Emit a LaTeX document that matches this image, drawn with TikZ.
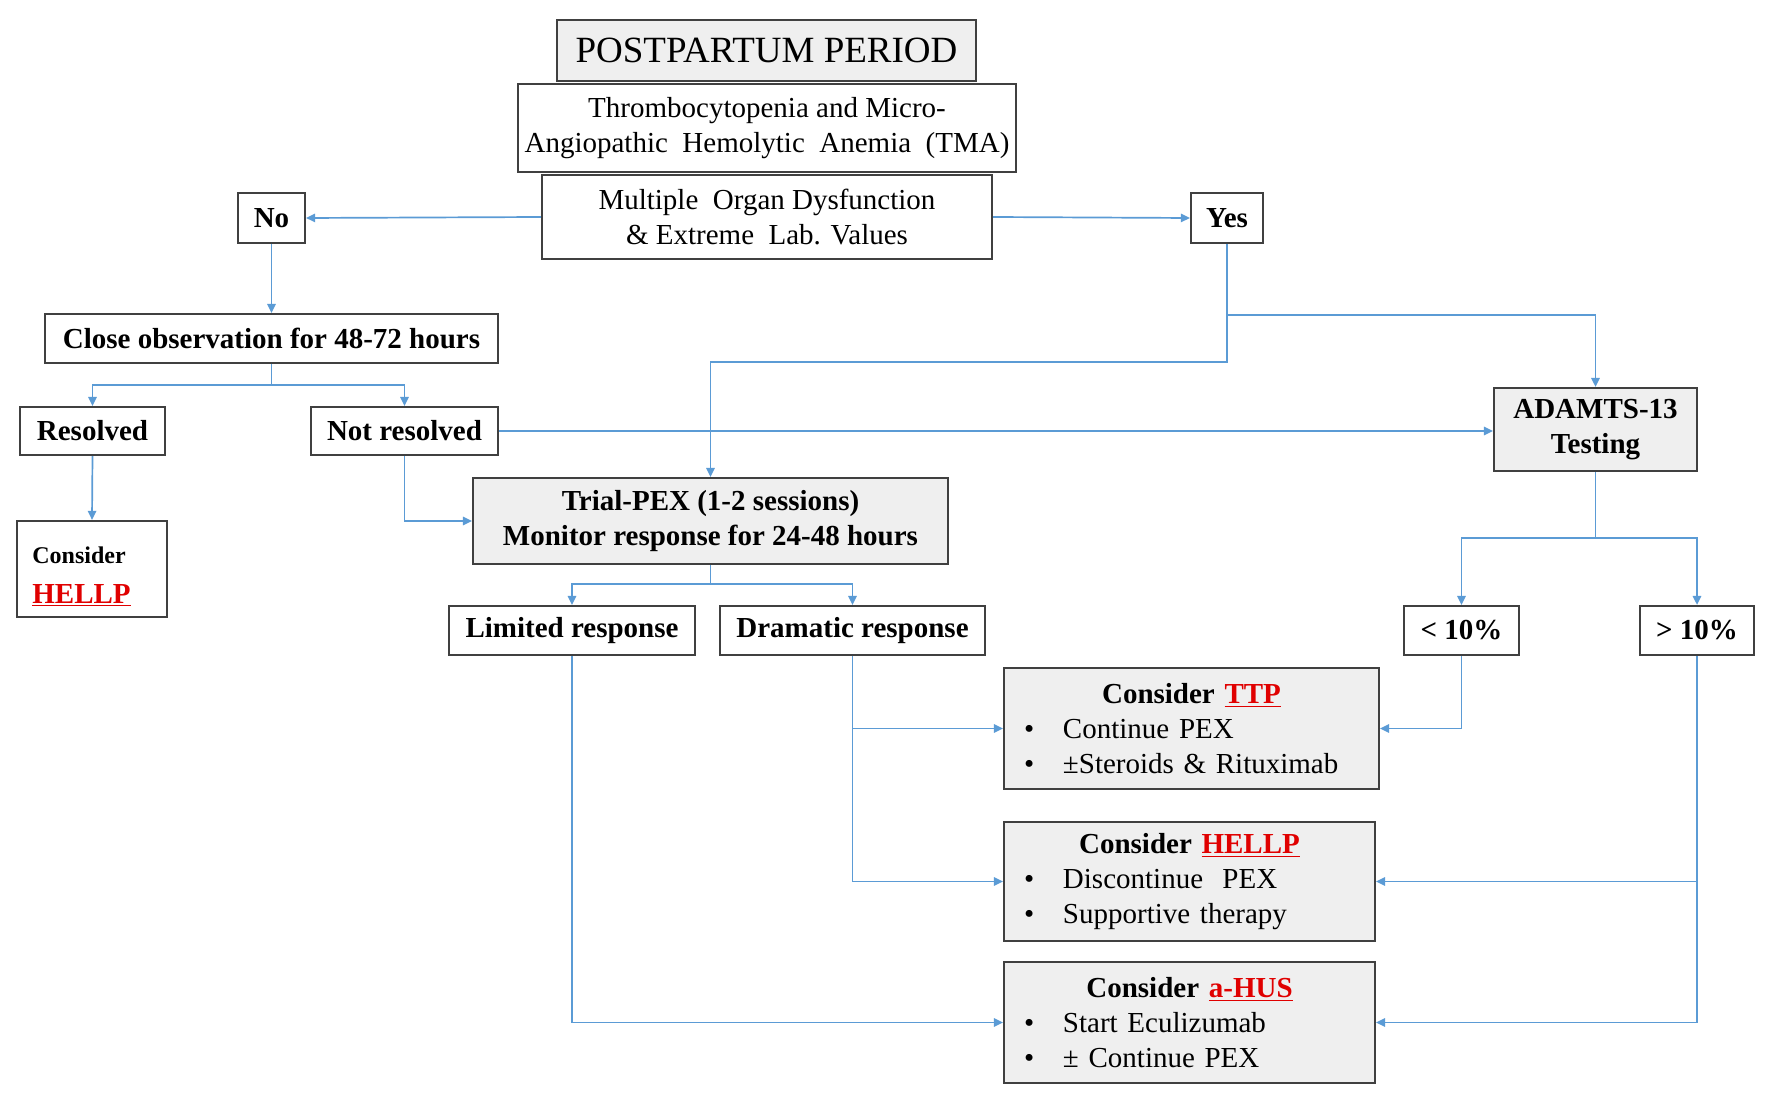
\documentclass[tikz,border=0pt]{standalone}
\usepackage{fontspec}
\setmainfont{Liberation Serif}
\usetikzlibrary{arrows.meta}
\definecolor{conn}{HTML}{5B9BD5}
\definecolor{boxfill}{HTML}{EFEFEF}
\definecolor{boxline}{HTML}{404040}
\definecolor{hred}{HTML}{E00000}
\newcommand{\fs}{\fontsize{14.5}{17.5}\selectfont}
\newcommand{\bul}{\makebox[19.5pt][l]{\textbullet}}
\newcommand{\redu}[1]{\textcolor{hred}{\underline{#1}}}
\begin{document}
\begin{tikzpicture}[x=0.5pt,y=-0.5pt,
  box/.style={draw=boxline,line width=1.1pt,fill=white,inner sep=0pt,align=center,font=\fs},
  gbox/.style={box,fill=boxfill},
  bbox/.style={box,font=\fs\bfseries},
  gbbox/.style={gbox,font=\fs\bfseries},
  listbox/.style={gbox,align=left,inner xsep=10pt,inner ysep=0pt},
  link/.style={draw=conn,line width=0.85pt,-{Triangle[length=4.5pt,width=4.2pt]}},
  plain/.style={draw=conn,line width=0.85pt},
]
\useasboundingbox (0,0) rectangle (1772,1096);

% top stack
\node[gbox,font=\fontsize{18.5}{22}\selectfont,minimum width=209.5pt,minimum height=30.5pt] (post) at (766.5,50.5) {POSTPARTUM PERIOD};
\node[box,minimum width=249pt,minimum height=44pt] (tma) at (767,128) {Thrombocytopenia and Micro-\\Angiopathic\ \ Hemolytic\ \ Anemia\ \ (TMA)};
\node[box,minimum width=225pt,minimum height=42pt] (mod) at (767,217) {Multiple\ \ Organ Dysfunction\\\& Extreme\ \ Lab. Values};

\node[bbox,minimum width=33.5pt,minimum height=25pt] (no) at (271.5,218) {No};
\node[bbox,minimum width=36pt,minimum height=25pt] (yes) at (1227,218) {Yes};

\node[bbox,minimum width=226.5pt,minimum height=24.5pt] (close) at (271.5,338.5) {Close observation for 48-72 hours};
\node[bbox,minimum width=72.5pt,minimum height=24pt] (res) at (92.5,431) {Resolved};
\node[bbox,minimum width=93.5pt,minimum height=24pt] (notres) at (404.5,431) {Not resolved};
\node[box,minimum width=75pt,minimum height=48pt] (hellpL) at (92,569) {};
\node[anchor=north west,align=left,inner sep=0pt,font=\fs] (hellpLt) at (32,546) {{\fontsize{12}{14}\selectfont\bfseries Consider}\\[2.5pt]{\bfseries\redu{HELLP}}};

\node[gbbox,minimum width=237.5pt,minimum height=43pt] (trial) at (710.5,521) {Trial-PEX (1-2 sessions)\\Monitor response for 24-48 hours};
\node[gbbox,minimum width=101.5pt,minimum height=41.5pt] (adamts) at (1595.5,429.5) {ADAMTS-13\\Testing};

\node[bbox,minimum width=123pt,minimum height=24.5pt] (lim) at (572,630.5) {Limited response};
\node[bbox,minimum width=132.5pt,minimum height=24.5pt] (dram) at (852.5,630.5) {Dramatic response};
\node[bbox,minimum width=57.5pt,minimum height=24.5pt] (lt) at (1461.5,630.5) {< 10\%};
\node[bbox,minimum width=57pt,minimum height=24.5pt] (gt) at (1697,630.5) {> 10\%};

\node[listbox,text width=167.5pt,minimum height=60.5pt] (ttp) at (1191.5,728.5)
  {\makebox[\linewidth][c]{\bfseries Consider \redu{TTP}}\\\bul Continue PEX\\\bul ±Steroids \& Rituximab};
\node[listbox,text width=165.5pt,minimum height=59.5pt] (hellp) at (1189.5,881.5)
  {\makebox[\linewidth][c]{\bfseries Consider \redu{HELLP}}\\\bul Discontinue\ \ PEX\\\bul Supportive therapy};
\node[listbox,text width=165.5pt,minimum height=60.5pt] (ahus) at (1189.5,1022.5)
  {\makebox[\linewidth][c]{\bfseries Consider \redu{a-HUS}}\\\bul Start Eculizumab\\\bul ± Continue PEX};

% connectors
\draw[link] (mod.west) -- (no.east);
\draw[link] (mod.east) -- (yes.west);
\draw[link] (no.south) -- (close.north);
\coordinate (j1) at (271.5,385);
\draw[plain] (close.south) -- (j1);
\draw[link] (j1) -| (res.north);
\draw[link] (j1) -| (notres.north);
\draw[link] (res.south) -- (hellpL.north);
\draw[link] (notres.south) |- (trial.west);
\draw[link] (notres.east) -- (notres.east -| adamts.west);
\coordinate (j2) at (1227,362);
\coordinate (j3) at (1227,315);
\draw[link] (yes.south) -- (j2) -| (trial.north);
\draw[link] (j3) -| (adamts.north);
\coordinate (j4) at (710.5,584);
\draw[plain] (trial.south) -- (j4);
\draw[link] (j4) -| (lim.north);
\draw[link] (j4) -| (dram.north);
\coordinate (j5) at (1595.5,538);
\draw[plain] (adamts.south) -- (j5);
\draw[link] (j5) -| (lt.north);
\draw[link] (j5) -| (gt.north);
\draw[link] (lim.south) |- (ahus.west);
\draw[link] (dram.south) |- (hellp.west);
\draw[link] (dram.south |- ttp.west) -- (ttp.west);
\draw[link] (lt.south) |- (ttp.east);
\draw[link] (gt.south) |- (ahus.east);
\draw[link] (gt.south |- hellp.east) -- (hellp.east);
\end{tikzpicture}
\end{document}
